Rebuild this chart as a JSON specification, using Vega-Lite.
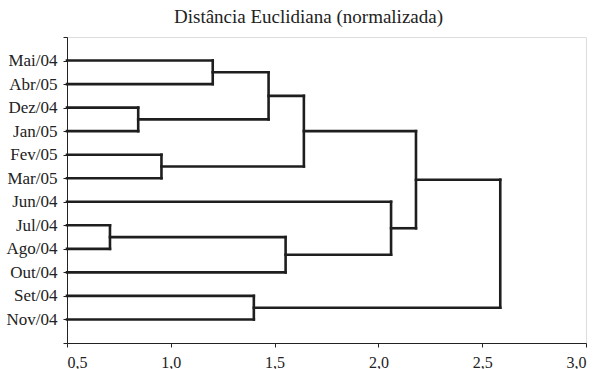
{
  "$schema": "https://vega.github.io/schema/vega-lite/v6.json",
  "width": 519,
  "height": 306,
  "autosize": {"type": "none"},
  "padding": {"left": 67, "top": 37, "right": 12, "bottom": 26},
  "background": "white",
  "title": {
    "text": "Distância Euclidiana (normalizada)",
    "font": "Liberation Serif, Times New Roman, serif",
    "fontSize": 19,
    "fontWeight": "normal",
    "color": "#222",
    "anchor": "middle",
    "dx": -18,
    "offset": 1
  },
  "data": {
    "values": [
      {"x": 0.5, "x2": 1.202, "y": 1, "y2": 1},
      {"x": 0.5, "x2": 1.202, "y": 2, "y2": 2},
      {"x": 1.202, "x2": 1.202, "y": 1, "y2": 2},
      {"x": 1.202, "x2": 1.471, "y": 1.5, "y2": 1.5},
      {"x": 0.5, "x2": 0.843, "y": 3, "y2": 3},
      {"x": 0.5, "x2": 0.843, "y": 4, "y2": 4},
      {"x": 0.843, "x2": 0.843, "y": 3, "y2": 4},
      {"x": 0.843, "x2": 1.471, "y": 3.5, "y2": 3.5},
      {"x": 1.471, "x2": 1.471, "y": 1.5, "y2": 3.5},
      {"x": 1.471, "x2": 1.641, "y": 2.5, "y2": 2.5},
      {"x": 0.5, "x2": 0.955, "y": 5, "y2": 5},
      {"x": 0.5, "x2": 0.955, "y": 6, "y2": 6},
      {"x": 0.955, "x2": 0.955, "y": 5, "y2": 6},
      {"x": 0.955, "x2": 1.641, "y": 5.5, "y2": 5.5},
      {"x": 1.641, "x2": 1.641, "y": 2.5, "y2": 5.5},
      {"x": 1.641, "x2": 2.181, "y": 4, "y2": 4},
      {"x": 0.5, "x2": 2.061, "y": 7, "y2": 7},
      {"x": 0.5, "x2": 0.707, "y": 8, "y2": 8},
      {"x": 0.5, "x2": 0.707, "y": 9, "y2": 9},
      {"x": 0.707, "x2": 0.707, "y": 8, "y2": 9},
      {"x": 0.707, "x2": 1.553, "y": 8.5, "y2": 8.5},
      {"x": 0.5, "x2": 1.553, "y": 10, "y2": 10},
      {"x": 1.553, "x2": 1.553, "y": 8.5, "y2": 10},
      {"x": 1.553, "x2": 2.061, "y": 9.25, "y2": 9.25},
      {"x": 2.061, "x2": 2.061, "y": 7, "y2": 9.25},
      {"x": 2.061, "x2": 2.181, "y": 8.125, "y2": 8.125},
      {"x": 2.181, "x2": 2.181, "y": 4, "y2": 8.125},
      {"x": 2.181, "x2": 2.587, "y": 6.0625, "y2": 6.0625},
      {"x": 0.5, "x2": 1.4, "y": 11, "y2": 11},
      {"x": 0.5, "x2": 1.4, "y": 12, "y2": 12},
      {"x": 1.4, "x2": 1.4, "y": 11, "y2": 12},
      {"x": 1.4, "x2": 2.587, "y": 11.5, "y2": 11.5},
      {"x": 2.587, "x2": 2.587, "y": 6.0625, "y2": 11.5}
    ]
  },
  "mark": {"type": "rule", "color": "#1e1e1e", "strokeWidth": 2.6, "strokeCap": "square"},
  "encoding": {
    "x": {
      "field": "x",
      "type": "quantitative",
      "scale": {"domain": [0.5, 3.0], "nice": false, "zero": false},
      "axis": {
        "title": null,
        "values": [0.5, 1.0, 1.5, 2.0, 2.5, 3.0],
        "labelExpr": "replace(format(datum.value, '.1f'), '.', ',')",
        "grid": false,
        "domainColor": "#222",
        "tickColor": "#222",
        "tickSize": 4,
        "labelFont": "Liberation Serif, Times New Roman, serif",
        "labelFontSize": 16,
        "labelColor": "#222",
        "labelPadding": 7
      }
    },
    "x2": {"field": "x2"},
    "y": {
      "field": "y",
      "type": "quantitative",
      "scale": {"domain": [0, 13], "reverse": true, "nice": false, "zero": false},
      "axis": {
        "title": null,
        "values": [0, 1, 2, 3, 4, 5, 6, 7, 8, 9, 10, 11, 12, 13],
        "labelExpr": "['', 'Mai/04', 'Abr/05', 'Dez/04', 'Jan/05', 'Fev/05', 'Mar/05', 'Jun/04', 'Jul/04', 'Ago/04', 'Out/04', 'Set/04', 'Nov/04', ''][datum.value]",
        "grid": false,
        "domainColor": "#222",
        "tickColor": "#222",
        "tickSize": 4,
        "labelFont": "Liberation Serif, Times New Roman, serif",
        "labelFontSize": 17,
        "labelColor": "#222",
        "labelPadding": 6,
        "labelBound": false,
        "labelOverlap": false
      }
    },
    "y2": {"field": "y2"}
  }
}
